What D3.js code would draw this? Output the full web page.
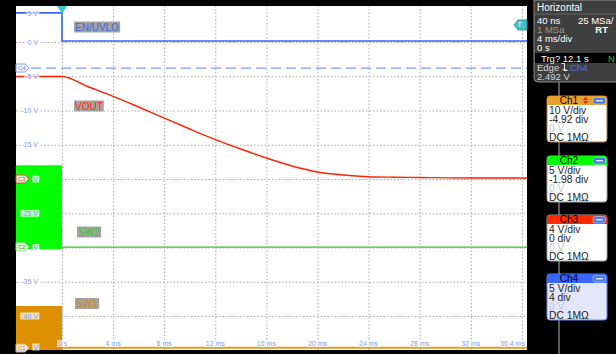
<!DOCTYPE html>
<html><head><meta charset="utf-8">
<script src="https://cdn.jsdelivr.net/npm/d3@7"></script>
<style>html,body{margin:0;padding:0;background:#000;overflow:hidden}text{font-family:"Liberation Sans",Arial,sans-serif}</style>
</head><body><svg id="c" width="616" height="354"></svg>
<script>
// ---------- data ----------
const channels = ["Ch1", "Ch2", "Ch3", "Ch4"];
const traceNames = ["SW1", "SW2", "VOUT", "EN/UVLO"];
const voltsPerDiv = [10, 5, 4, 5];
const offsetDiv = [-4.92, -1.98, 0, 4];
const channelScaleText = ["10 V/div", "5 V/div", "4 V/div", "5 V/div"];
const channelOffsetText = ["-4.92 div", "-1.98 div", "0 div", "4 div"];
const channelCoupling = ["DC 1MΩ", "DC 1MΩ", "DC 1MΩ", "DC 1MΩ"];

const gridTimes = [0, 4, 8, 12, 16, 20, 24, 28, 32, 36];
const timeTicks = [0, 4, 8, 12, 16, 20, 24, 28, 32, 36.4];
const timeTickLabels = ["0 s", "4 ms", "8 ms", "12 ms", "16 ms", "20 ms", "24 ms", "28 ms", "32 ms", "36.4 ms"];
const gridDivs = [4, 3, 2, 1, 0, -1, -2, -3, -4];
const voltTicks = [5, 0, -5, -10, -15, -20, -25, -30, -35, -40, -45];
// labels partly hidden behind the channel markers show only their unit
const voltTickLabels = ["5 V", "0 V", "-5 V", "-10 V", "-15 V", "V", "-25 V", "V", "-35 V", "-40 V", "V"];

// VOUT (Ch3)
const voutTime  = [-3.6, 0, 2, 4, 6, 8, 10, 12, 14, 16, 18, 20, 22, 24, 26, 28, 32, 36.4];
const voutVolts = [11.97, 11.97, 10.8, 9.64, 8.41, 7.12, 5.84, 4.61, 3.5, 2.45, 1.52, 0.82, 0.47, 0.27, 0.21, 0.18, 0.12, 0.12];
// EN/UVLO (Ch4)
const enTime  = [-3.6, 0, 0, 36.4];
const enVolts = [4.25, 4.25, 0.15, 0.15];
// SW2 (Ch2): switching envelope before 0 s, then flat
const sw2BandTime = [-3.6, 0];
const sw2High = [11.9, 11.9];
const sw2Low = [-0.35, -0.35];
const sw2Time = [0, 36.4];
const sw2Volts = [-0.05, -0.05];
// SW1 (Ch1)
const sw1BandTime = [-3.6, 0];
const sw1High = [12.1, 12.1];
const sw1Low = [-1, -1];
const sw1Time = [0, 36.4];
const sw1Volts = [-0.05, -0.05];
// trigger level and reference marker (Ch4 volts)
const trigLevel = 2.492;
const refLevel = -3.8;

const horizRows = [["40 ns", "25 MSa/"], ["1 MSa", "RT"], ["4 ms/div", ""], ["0 s", ""]];

// ---------- scales ----------
const svg = d3.select("#c");
const L = 16, R = 527, T = 6, B = 350;
const x = d3.scaleLinear().domain([-3.6, 36.4]).range([L, R]);
const yDiv = d3.scaleLinear().domain([-5, 5]).range([350.25, 7.75]);
const yCh = i => v => yDiv(v / voltsPerDiv[i] + offsetDiv[i]);

// background
svg.append("rect").attr("width", 616).attr("height", 354).attr("fill", "#000");
svg.append("rect").attr("x", L).attr("y", T).attr("width", R - L).attr("height", B - T).attr("fill", "#fff");
svg.append("clipPath").attr("id", "pc").append("rect").attr("x", L).attr("y", T).attr("width", R - L).attr("height", B - T);
const plot = svg.append("g").attr("clip-path", "url(#pc)");

// grid via axes
const gx = plot.append("g").attr("transform", `translate(0,${B})`)
  .call(d3.axisBottom(x).tickValues(gridTimes).tickSize(-(B - T)).tickFormat(""));
const gy = plot.append("g").attr("transform", `translate(${L},0)`)
  .call(d3.axisLeft(yDiv).tickValues(gridDivs).tickSize(-(R - L)).tickFormat(""));
[gx, gy].forEach(g => {
  g.select(".domain").remove();
  g.selectAll("line").attr("stroke", "#a8a8a8").attr("stroke-width", 1).attr("stroke-dasharray", "1.5,2");
});

// reference dashed line
plot.append("line").attr("x1", L).attr("x2", R).attr("y1", yCh(3)(refLevel)).attr("y2", yCh(3)(refLevel))
  .attr("stroke", "#7d9cf2").attr("stroke-width", 1.2).attr("stroke-dasharray", "10,5");

// switching envelopes
const area = (i, t, hi, lo) => d3.area().x((d, k) => x(t[k])).y0((d, k) => yCh(i)(lo[k])).y1((d, k) => yCh(i)(hi[k]))(t);
plot.append("path").attr("d", area(1, sw2BandTime, sw2High, sw2Low)).attr("fill", "#00ff00");
plot.append("path").attr("d", area(0, sw1BandTime, sw1High, sw1Low)).attr("fill", "#dd9000");

const line = (i, t, v) => d3.line().x((d, k) => x(t[k])).y((d, k) => yCh(i)(v[k]))(t);
plot.append("path").attr("d", line(1, sw2Time, sw2Volts)).attr("fill", "none").attr("stroke", "#3ec43e").attr("stroke-width", 1.2);
plot.append("path").attr("d", line(0, sw1Time, sw1Volts)).attr("fill", "none").attr("stroke", "#e39b12").attr("stroke-width", 2);
plot.append("path").attr("d", line(3, enTime, enVolts)).attr("fill", "none").attr("stroke", "#3a66f0").attr("stroke-width", 1.6);
plot.append("path").attr("d", d3.line().curve(d3.curveMonotoneX).x((d, k) => x(voutTime[k])).y((d, k) => yCh(2)(voutVolts[k]))(voutTime))
  .attr("fill", "none").attr("stroke", "#ff2200").attr("stroke-width", 1.4);

// helper: text with translucent bg
function boxedText(g, tx, ty, s, opts) {
  const t = g.append("text").attr("x", tx).attr("y", ty).text(s)
    .attr("font-size", opts.size).attr("fill", opts.color).attr("text-anchor", opts.anchor || "start");
  const bb = t.node().getBBox();
  g.insert("rect", () => t.node()).attr("x", bb.x - (opts.padX || 1)).attr("y", bb.y)
    .attr("width", bb.width + 2 * (opts.padX || 1)).attr("height", bb.height)
    .attr("fill", opts.bg).attr("opacity", opts.bgOp || 1);
  return t;
}

// y labels (Ch4 scale)
const yl = svg.append("g");
voltTicks.forEach((v, k) => {
  const yy = Math.max(13, Math.min(347, yCh(3)(v)));
  const g = yl.append("g");
  boxedText(g, 38, yy + 2.5, voltTickLabels[k], {size: 7, color: "#7f9df0", anchor: "end", bg: "#ffffff", bgOp: 0.7});
});

// time labels
const xl = svg.append("g");
timeTicks.forEach((t, k) => {
  const last = k === timeTicks.length - 1;
  const g = xl.append("g");
  boxedText(g, last ? 525 : (k === 0 ? x(t) - 4 : x(t)), 346, timeTickLabels[k],
    {size: 7, color: "#7f9df0", anchor: last ? "end" : (k === 0 ? "start" : "middle"), bg: "#ffffff", bgOp: 0.7});
});

// channel ground / reference markers on the left
const markers = [
  {name: "C4", y: yCh(3)(refLevel), color: "#7d9cf2", text: "#5a7be8"},
  {name: "C3", y: yCh(2)(0), color: "#e04040", text: "#d04040"},
  {name: "C2", y: yCh(1)(0), color: "#7fe07f", text: "#40a040"},
  {name: "C1", y: yCh(0)(0) + 0.5, color: "#e0b060", text: "#c08a20"}
];
markers.forEach(m => {
  svg.append("path").attr("d", `M16,${m.y - 4}H25L29,${m.y}L25,${m.y + 4}H16Z`)
    .attr("fill", "#ffffff").attr("fill-opacity", 0.85).attr("stroke", m.color).attr("stroke-width", 1);
  svg.append("text").attr("x", 18).attr("y", m.y + 2.3).text(m.name).attr("font-size", 6).attr("fill", m.text);
});

// trigger markers
svg.append("path").attr("d", `M${x(0) - 5},${T}H${x(0) + 5}L${x(0)},${T + 8}Z`).attr("fill", "#3cc8d0");
const ty = yCh(3)(trigLevel);
svg.append("path").attr("d", `M514,${ty}L518,${ty - 5}H527V${ty + 5}H518Z`).attr("fill", "#40c0c8").attr("stroke", "#208890").attr("stroke-width", 0.8);
svg.append("text").attr("x", 517.5).attr("y", ty + 2.5).text("T").attr("font-size", 7).attr("fill", "#fff");

// trace name labels
const nameLbl = [
  {i: 3, x: 75, y: 30.5},
  {i: 2, x: 75, y: 109.5},
  {i: 1, x: 78, y: 235.5},
  {i: 0, x: 76, y: 307}
];
const nameColors = ["#d08a10", "#2ed02e", "#ff2a10", "#3d64e8"];
nameLbl.forEach(n => {
  const g = svg.append("g");
  boxedText(g, n.x, n.y, traceNames[n.i], {size: 10, color: nameColors[n.i], bg: "#a3a3a3", padX: 1});
});

// ---------- right panel ----------
svg.append("line").attr("x1", 559).attr("x2", 559).attr("y1", 80).attr("y2", 354).attr("stroke", "#7a7a7a").attr("stroke-width", 1.5);
svg.append("path").attr("d", "M534,0V78Q534,82 538,82H620V0Z").attr("fill", "#3e3e3e").attr("stroke", "#8c8c8c").attr("stroke-width", 1);
svg.append("text").attr("x", 537).attr("y", 11).text("Horizontal").attr("font-size", 10).attr("fill", "#fff");
svg.append("line").attr("x1", 534).attr("x2", 616).attr("y1", 14).attr("y2", 14).attr("stroke", "#666");
const hy = [24, 33, 42, 51];
horizRows.forEach((r, k) => {
  svg.append("text").attr("x", 537).attr("y", hy[k]).text(r[0]).attr("font-size", 9.5).attr("fill", k === 1 ? "#9a9a9a" : "#fff");
  if (r[1]) svg.append("text").attr("x", k === 1 ? 608 : 578).attr("y", hy[k]).text(r[1])
    .attr("font-size", 9.5).attr("fill", "#fff").attr("text-anchor", k === 1 ? "end" : "start").attr("font-weight", k === 1 ? "bold" : "normal");
});
svg.append("rect").attr("x", 535).attr("y", 53).attr("width", 81).attr("height", 10).attr("fill", "#000");
svg.append("text").attr("x", 541).attr("y", 61.5).text("Trg? 12.1 s").attr("font-size", 9.5).attr("fill", "#fff");
svg.append("text").attr("x", 608).attr("y", 61.5).text("N").attr("font-size", 9.5).attr("fill", "#3cc83c");
svg.append("text").attr("x", 537).attr("y", 71).text("Edge").attr("font-size", 9.5).attr("fill", "#d8d8d8");
// falling-edge symbol drawn as a path
svg.append("path").attr("d", "M561.5,63.5H564.5V70.5H567.5M562.5,69L564.5,71L566.5,69").attr("fill", "none").attr("stroke", "#fff").attr("stroke-width", 0.9);
svg.append("text").attr("x", 570).attr("y", 71).text("Ch4").attr("font-size", 9.5).attr("fill", "#4a72ff");
svg.append("text").attr("x", 537).attr("y", 80).text(trigLevel.toFixed(3) + " V").attr("font-size", 9.5).attr("fill", "#d8d8d8");

// channel boxes
const boxTop = [96, 156, 215, 274];
const headerCols = ["#e8a030", "#00ff00", "#ff2a00", "#3a66ff"];
const bodyCols = ["#ffffff", "#ffffff", "#ffffff", "#e4e6fc"];
const borderCols = ["#b08030", "#a0a0a0", "#a0a0a0", "#6f88f0"];
channels.forEach((c, i) => {
  const y0 = boxTop[i];
  const g = svg.append("g");
  g.append("rect").attr("x", 547).attr("y", y0).attr("width", 60).attr("height", 46).attr("rx", 3)
    .attr("fill", bodyCols[i]).attr("stroke", borderCols[i]).attr("stroke-width", 1);
  g.append("path").attr("d", `M547,${y0 + 9}V${y0 + 3}Q547,${y0} 550,${y0}H604Q607,${y0} 607,${y0 + 3}V${y0 + 9}Z`).attr("fill", headerCols[i]);
  g.append("text").attr("x", 569).attr("y", y0 + 8.3).text(c).attr("font-size", 10).attr("fill", "#000").attr("text-anchor", "middle");
  if (i === 0) {
    g.append("path").attr("d", `M583,${y0 + 4}L585.5,${y0 + 1}L588,${y0 + 4}ZM583,${y0 + 5}L588,${y0 + 5}L585.5,${y0 + 8}Z`).attr("fill", "#e02020");
  }
  g.append("rect").attr("x", 593).attr("y", y0 + 1.5).attr("width", 12.5).attr("height", 6.5).attr("rx", 2)
    .attr("fill", "#4a7ae8").attr("stroke", "#c8d4ff").attr("stroke-width", 0.6);
  g.append("line").attr("x1", 596).attr("x2", 603).attr("y1", y0 + 4.75).attr("y2", y0 + 4.75).attr("stroke", "#fff").attr("stroke-width", 1.2);
  const rows = [channelScaleText[i], channelOffsetText[i], "0 V", channelCoupling[i]];
  rows.forEach((r, k) => {
    g.append("text").attr("x", 549).attr("y", y0 + 17.5 + k * 9).text(r).attr("font-size", 10.3)
      .attr("fill", k === 2 ? "#c8c8c8" : "#222");
  });
});
</script></body></html>
